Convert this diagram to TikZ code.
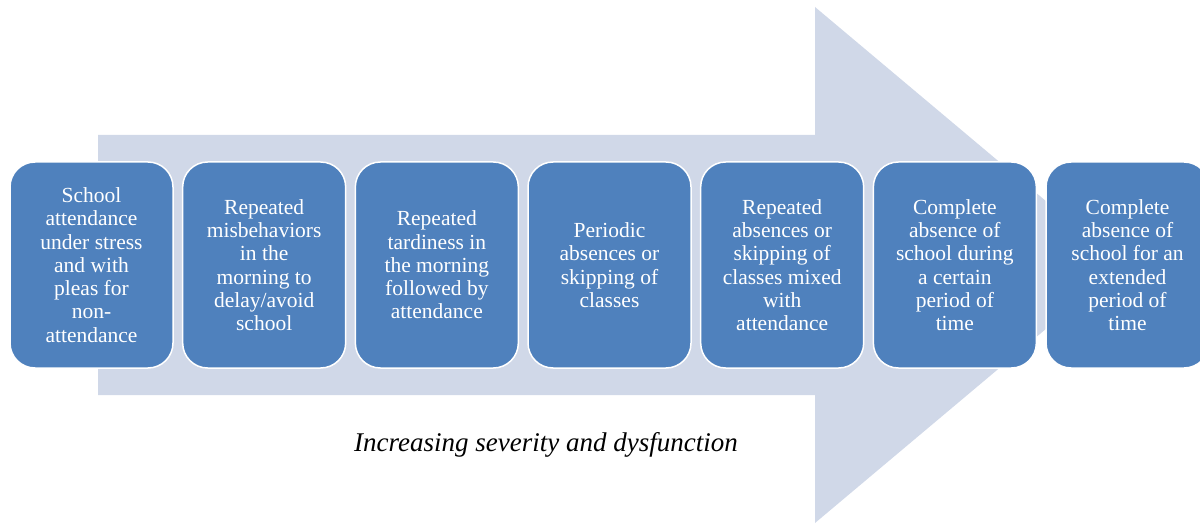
\documentclass[tikz,border=0pt]{standalone}
\usepackage{fontspec}
\setmainfont{Liberation Serif}
\usepackage{tikz}
\usetikzlibrary{calc}
\usetikzlibrary{positioning}
\definecolor{denim}{RGB}{79, 129, 189}
\definecolor{mistblue}{RGB}{208, 216, 232}

\begin{document}
\begin{tikzpicture}[x=1pt, y=1pt,
        stagebox/.style={rectangle, rounded corners=25pt, fill=denim, draw=white, line width=1.5pt,
                         minimum width=163pt, minimum height=206pt, outer sep=0pt, inner sep=4pt,
                         text=white, align=center, font=\fontsize{21.5}{23.3}\selectfont},
        caption/.style={font=\fontsize{27}{30}\selectfont\itshape, text=black}]
            \useasboundingbox                                              (0, 0) rectangle (1200, 523);
            \fill[mistblue] (98, 388) -- (815, 388) -- (815, 516) -- (1122, 258) -- (815, 0) -- (815, 128) -- (98, 128) -- cycle;
            % stages, left to right
            \node[stagebox] (s1) at (91.5, 258)  {School\\attendance\\under stress\\and with\\pleas for\\non-\\attendance};
            \node[stagebox, right=9.67pt of s1] (s2) {Repeated\\misbehaviors\\in the\\morning to\\delay/avoid\\school};
            \node[stagebox, right=9.67pt of s2] (s3) {Repeated\\tardiness in\\the morning\\followed by\\attendance};
            \node[stagebox, right=9.67pt of s3] (s4) {Periodic\\absences or\\skipping of\\classes};
            \node[stagebox, right=9.67pt of s4] (s5) {Repeated\\absences or\\skipping of\\classes mixed\\with\\attendance};
            \node[stagebox, right=9.67pt of s5] (s6) {Complete\\absence of\\school during\\a certain\\period of\\time};
            \node[stagebox, right=9.67pt of s6] (s7) {Complete\\absence of\\school for an\\extended\\period of\\time};
            \node[caption] (trend) at (546, 78) {Increasing severity and dysfunction};
        \end{tikzpicture}
\end{document}
